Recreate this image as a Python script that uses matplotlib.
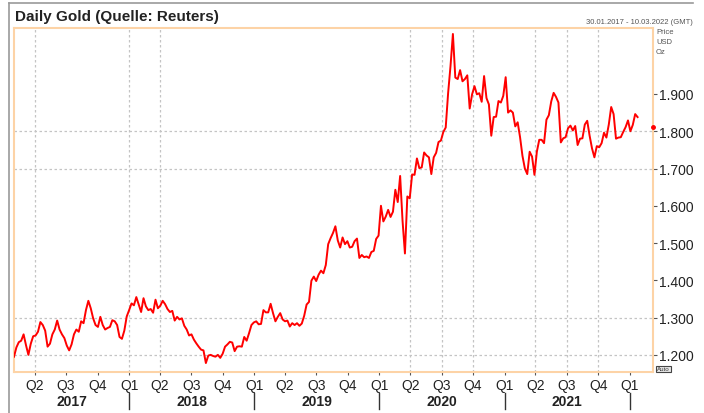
import matplotlib
matplotlib.use("Agg")
import matplotlib.pyplot as plt
import matplotlib.dates as mdates
import matplotlib.transforms as mtrans
from matplotlib.lines import Line2D
from matplotlib.ticker import FuncFormatter
import pandas as pd

plt.rcParams['font.family'] = ['Liberation Sans', 'DejaVu Sans']

# weekly gold closes (USD/oz), mondays from 30.01.2017
gold_2017 = [1195, 1220, 1234, 1238, 1255, 1226, 1200, 1230, 1250, 1252, 1262, 1288,
             1280, 1265, 1222, 1230, 1255, 1268, 1292, 1268, 1255, 1245, 1225, 1212,
             1228, 1255, 1268, 1262, 1290, 1285, 1320, 1345, 1325, 1298, 1280, 1275,
             1302, 1280, 1268, 1272, 1275, 1293, 1290, 1280, 1248, 1243, 1265, 1303]
gold_2018 = [1320, 1338, 1333, 1355, 1335, 1315, 1352, 1330, 1320, 1323, 1313, 1348,
             1325, 1332, 1345, 1336, 1323, 1315, 1318, 1292, 1302, 1295, 1298, 1278,
             1268, 1252, 1255, 1241, 1231, 1222, 1214, 1212, 1178, 1198, 1200, 1197,
             1195, 1200, 1192, 1203, 1222, 1228, 1235, 1233, 1210, 1222, 1223, 1222,
             1248, 1238, 1258, 1280, 1287]
gold_2019 = [1290, 1282, 1283, 1320, 1314, 1314, 1337, 1312, 1290, 1302, 1312, 1295,
             1290, 1292, 1276, 1285, 1280, 1285, 1278, 1284, 1305, 1335, 1342, 1399,
             1410, 1398, 1415, 1426, 1419, 1441, 1497, 1513, 1527, 1545, 1507, 1488,
             1515, 1497, 1505, 1488, 1490, 1505, 1512, 1460, 1468, 1462, 1464, 1460,
             1476, 1479, 1511, 1520]
gold_2020 = [1600, 1558, 1571, 1589, 1570, 1584, 1643, 1610, 1680, 1560, 1472, 1625,
             1620, 1684, 1683, 1727, 1701, 1703, 1743, 1735, 1730, 1685, 1730, 1742,
             1771, 1775, 1798, 1810, 1902, 1975, 2061, 1944, 1940, 1964, 1934, 1940,
             1950, 1861, 1899, 1921, 1899, 1902, 1879, 1948, 1889, 1872, 1788, 1838,
             1839, 1881, 1877, 1895]
gold_2021 = [1945, 1850, 1856, 1850, 1813, 1824, 1784, 1734, 1700, 1685, 1745, 1732,
             1683, 1745, 1777, 1777, 1768, 1831, 1843, 1880, 1903, 1892, 1877, 1770,
             1781, 1784, 1808, 1815, 1802, 1814, 1763, 1780, 1781, 1818, 1828, 1788,
             1754, 1730, 1760, 1757, 1768, 1796, 1783, 1818, 1865, 1846, 1780, 1783,
             1784, 1798, 1811, 1829]
gold_2022 = [1800, 1817, 1846, 1838]

prices = gold_2017 + gold_2018 + gold_2019 + gold_2020 + gold_2021 + gold_2022
dates = pd.date_range("2017-01-30", periods=len(prices), freq="7D")

x_start = pd.Timestamp("2017-01-30")
x_end = pd.Timestamp("2022-03-10")
y_ticks = [1200, 1300, 1400, 1500, 1600, 1700, 1800, 1900]
grid_levels = [1200, 1300, 1700, 1800]
grid_quarters = ["2017-04-01", "2018-01-01", "2018-04-01", "2020-04-01", "2020-07-01",
                 "2020-10-01", "2021-04-01", "2021-07-01", "2021-10-01"]
quarter_starts = pd.date_range("2017-04-01", "2022-01-01", freq="QS")
years = [2017, 2018, 2019, 2020, 2021, 2022]
last_price = 1811

W, H = 704, 414
fig = plt.figure(figsize=(W / 100, H / 100), dpi=100)
ax = fig.add_axes([14 / W, 1 - 373 / H, (653 - 14) / W, (373 - 29) / H])

ax.plot(dates, prices, color='#ff0000', lw=1.4, zorder=3)

ax.set_xlim(x_start, x_end)
ax.set_ylim(1154, 2077)

# sparse dotted grid
for lv in grid_levels:
    ax.axhline(lv, color='#c4c4c4', lw=0.9, ls=(0, (2, 2)), zorder=1)
for q in grid_quarters:
    ax.axvline(pd.Timestamp(q), color='#c4c4c4', lw=0.9, ls=(0, (2, 2)), zorder=1)

orange = '#fdd3a6'
for s in ax.spines.values():
    s.set_color(orange)
    s.set_linewidth(1.5)

# y axis on the right
ax.yaxis.tick_right()
ax.set_yticks(y_ticks)
ax.yaxis.set_major_formatter(FuncFormatter(lambda v, p: f"{int(v):,}".replace(",", ".")))
ax.tick_params(axis='y', length=3, width=0.8, color='#555555', pad=1,
               labelsize=10, labelcolor='#222222')

# quarter labels
ax.set_xticks(quarter_starts)
ax.set_xticklabels([f"Q{(d.month - 1) // 3 + 1}" for d in quarter_starts])
ax.tick_params(axis='x', length=2, width=0.8, color='#555555', pad=2,
               labelsize=10, labelcolor='#222222')

# year row
tr = mtrans.blended_transform_factory(ax.transData, ax.transAxes)
y_lab = -(402 - 373) / 344
for yr in years:
    a = max(pd.Timestamp(f"{yr}-01-01"), x_start)
    b = min(pd.Timestamp(f"{yr + 1}-01-01"), x_end)
    if (b - a).days < 120:
        continue
    mid = a + (b - a) / 2
    ax.text(mid, y_lab, str(yr), transform=tr, ha='center', va='center',
            fontsize=10, fontweight='bold', color='#222222')
for yr in years[1:]:
    xd = mdates.date2num(pd.Timestamp(f"{yr}-01-01"))
    ax.plot([xd, xd], [-(394 - 373) / 344, -(410 - 373) / 344], transform=tr,
            color='#333333', lw=1, clip_on=False)

# last price marker
ax.plot([1.0], [last_price], marker='o', ms=2.5, color='#ff0000',
        transform=mtrans.blended_transform_factory(ax.transAxes, ax.transData),
        clip_on=False, zorder=5)

# outer frame
fig.add_artist(Line2D([9 / W, 9 / W], [0, 1 - 4 / H], color='#9a9a9a', lw=1.2))
fig.add_artist(Line2D([9 / W, 693 / W], [1 - 4 / H, 1 - 4 / H], color='#9a9a9a', lw=1.2))

fig.text(15 / W, 1 - 17 / H, "Daily Gold (Quelle: Reuters)", fontsize=11,
         fontweight='bold', color='#222222', va='center', ha='left')
fig.text(693 / W, 1 - 23 / H, "30.01.2017 - 10.03.2022 (GMT)", fontsize=5.5,
         color='#555555', va='center', ha='right')
for i, t in enumerate(["Price", "USD", "Oz"]):
    fig.text(656 / W, 1 - (33 + i * 9.5) / H, t, fontsize=5.5, color='#555555',
             va='center', ha='left')
fig.text(657 / W, 1 - 370 / H, "Auto", fontsize=4.5, color='#333333', va='center',
         ha='left', bbox=dict(boxstyle='square,pad=0.15', fc='#e8e8e8', ec='#444444', lw=0.8))

fig.savefig("out.png", dpi=100)
